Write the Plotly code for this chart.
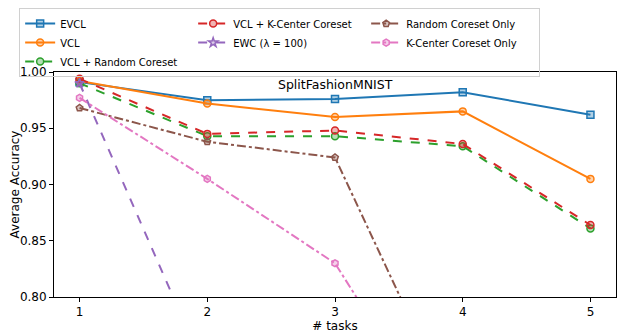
import plotly.graph_objects as go

tasks = [1, 2, 3, 4, 5]
evcl = [0.991, 0.975, 0.976, 0.982, 0.962]
vcl = [0.992, 0.972, 0.960, 0.965, 0.905]
vcl_random = [0.990, 0.943, 0.943, 0.934, 0.861]
vcl_kcenter = [0.994, 0.945, 0.948, 0.936, 0.864]
ewc = [0.990, 0.731, 0.620, 0.550, 0.500]
random_only = [0.968, 0.938, 0.924, 0.681, 0.620]
kcenter_only = [0.977, 0.905, 0.830, 0.650, 0.580]

y_ticks = [0.80, 0.85, 0.90, 0.95, 1.00]

series = [
    ("EVCL", evcl, "#1f77b4", "solid", "square", 1),
    ("VCL", vcl, "#ff7f0e", "solid", "circle", 4),
    ("VCL + Random Coreset", vcl_random, "#2ca02c", "dash", "circle", 7),
    ("VCL + K-Center Coreset", vcl_kcenter, "#d62728", "dash", "circle", 2),
    ("EWC (λ = 100)", ewc, "#9467bd", "dash", "star", 5),
    ("Random Coreset Only", random_only, "#8c564b", "dashdot", "pentagon", 3),
    ("K-Center Coreset Only", kcenter_only, "#e377c2", "dashdot", "hexagon", 6),
]

def rgba(h, a):
    h = h.lstrip("#")
    return "rgba(%d,%d,%d,%.2f)" % (int(h[0:2], 16), int(h[2:4], 16), int(h[4:6], 16), a)

fig = go.Figure()
for name, vals, col, dash, sym, rank in series:
    fig.add_trace(go.Scatter(
        x=tasks, y=vals, name=name, mode="lines+markers",
        line=dict(color=col, width=2, dash=dash),
        marker=dict(symbol=sym, size=7, color=rgba(col, 0.35),
                    line=dict(color=col, width=1.5)),
        legendrank=rank,
    ))

fig.add_annotation(text="SplitFashionMNIST", x=0.5, y=1, xref="paper", yref="paper",
                   xanchor="center", yanchor="top", yshift=-3, showarrow=False,
                   font=dict(size=12.5, color="black"))

axis_common = dict(showline=True, linecolor="black", linewidth=1, mirror=True,
                   ticks="outside", ticklen=4, tickcolor="black", showgrid=False,
                   zeroline=False, tickfont=dict(size=12, color="black"))

fig.update_layout(
    width=632, height=328,
    margin=dict(l=46, r=24, t=64, b=39, autoexpand=False),
    paper_bgcolor="white", plot_bgcolor="white",
    font=dict(family="DejaVu Sans", color="black"),
    xaxis=dict(range=[0.8, 5.2], tickvals=tasks, ticktext=[str(t) for t in tasks],
               title=dict(text="# tasks", font=dict(size=12), standoff=2), **axis_common),
    yaxis=dict(range=[0.80, 1.00], tickvals=y_ticks, tickformat=".2f",
               title=dict(text="Average Accuracy", font=dict(size=12), standoff=9), **axis_common),
    legend=dict(orientation="h", x=-0.062, xanchor="left", y=1.284, yanchor="top",
                entrywidth=128, entrywidthmode="pixels",
                bordercolor="#d0d0d0", borderwidth=1, bgcolor="rgba(255,255,255,0)",
                font=dict(size=10), tracegroupgap=0),
    showlegend=True,
)

fig.write_html("out.html")
